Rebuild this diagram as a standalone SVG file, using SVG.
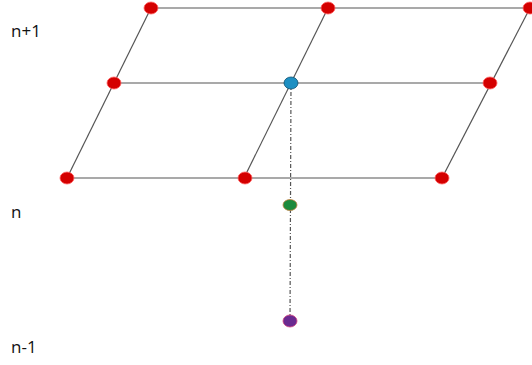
<svg xmlns="http://www.w3.org/2000/svg" width="532" height="365" viewBox="0 0 532 365">
<style>
.grid line{stroke:#555;stroke-width:1.2}
.dash{stroke:#222;stroke-width:1;stroke-dasharray:4,2,1,2}
.red{fill:#d40000;stroke:#ff6060;stroke-width:0.8}
.lbl{font-family:"Open Sans","Liberation Sans",Arial,sans-serif;font-size:17px;fill:#111}
</style>
<rect width="532" height="365" fill="#fff"/>
<g id="connectors" class="grid">
<line x1="151" y1="8" x2="530" y2="8"/>
<line x1="114" y1="83" x2="490" y2="83"/>
<line x1="67" y1="178" x2="442" y2="178"/>
<line x1="151" y1="8" x2="67" y2="178"/>
<line x1="328" y1="8" x2="244" y2="178"/>
<line x1="530" y1="8" x2="442" y2="178"/>
<line class="dash" x1="291" y1="83" x2="290" y2="321"/>
</g>
<g id="n-t1"><ellipse class="red" cx="151" cy="8" rx="7" ry="6"/></g>
<g id="n-t2"><ellipse class="red" cx="328" cy="8" rx="7" ry="6"/></g>
<g id="n-t3"><ellipse class="red" cx="530" cy="8" rx="7" ry="6"/></g>
<g id="n-m1"><ellipse class="red" cx="114" cy="83" rx="7" ry="6"/></g>
<g id="n-m2"><ellipse cx="291" cy="83" rx="7" ry="6" fill="#1d8fc2" stroke="#0a4f70" stroke-width="0.8"/></g>
<g id="n-m3"><ellipse class="red" cx="490" cy="83" rx="7" ry="6"/></g>
<g id="n-b1"><ellipse class="red" cx="67" cy="178" rx="7" ry="6"/></g>
<g id="n-b2"><ellipse class="red" cx="245" cy="178" rx="7" ry="6"/></g>
<g id="n-b3"><ellipse class="red" cx="442" cy="178" rx="7" ry="6"/></g>
<g id="n-green"><ellipse cx="290" cy="205" rx="7" ry="5.5" fill="#1c8a3c" stroke="#c08040" stroke-width="0.8"/></g>
<g id="n-purple"><ellipse cx="290" cy="321" rx="7" ry="6" fill="#6a2a90" stroke="#d04080" stroke-width="0.8"/></g>
<g id="labels">
<text class="lbl" x="11" y="37">n+1</text>
<text class="lbl" x="11" y="218">n</text>
<text class="lbl" x="11" y="353">n-1</text>
</g>
</svg>
